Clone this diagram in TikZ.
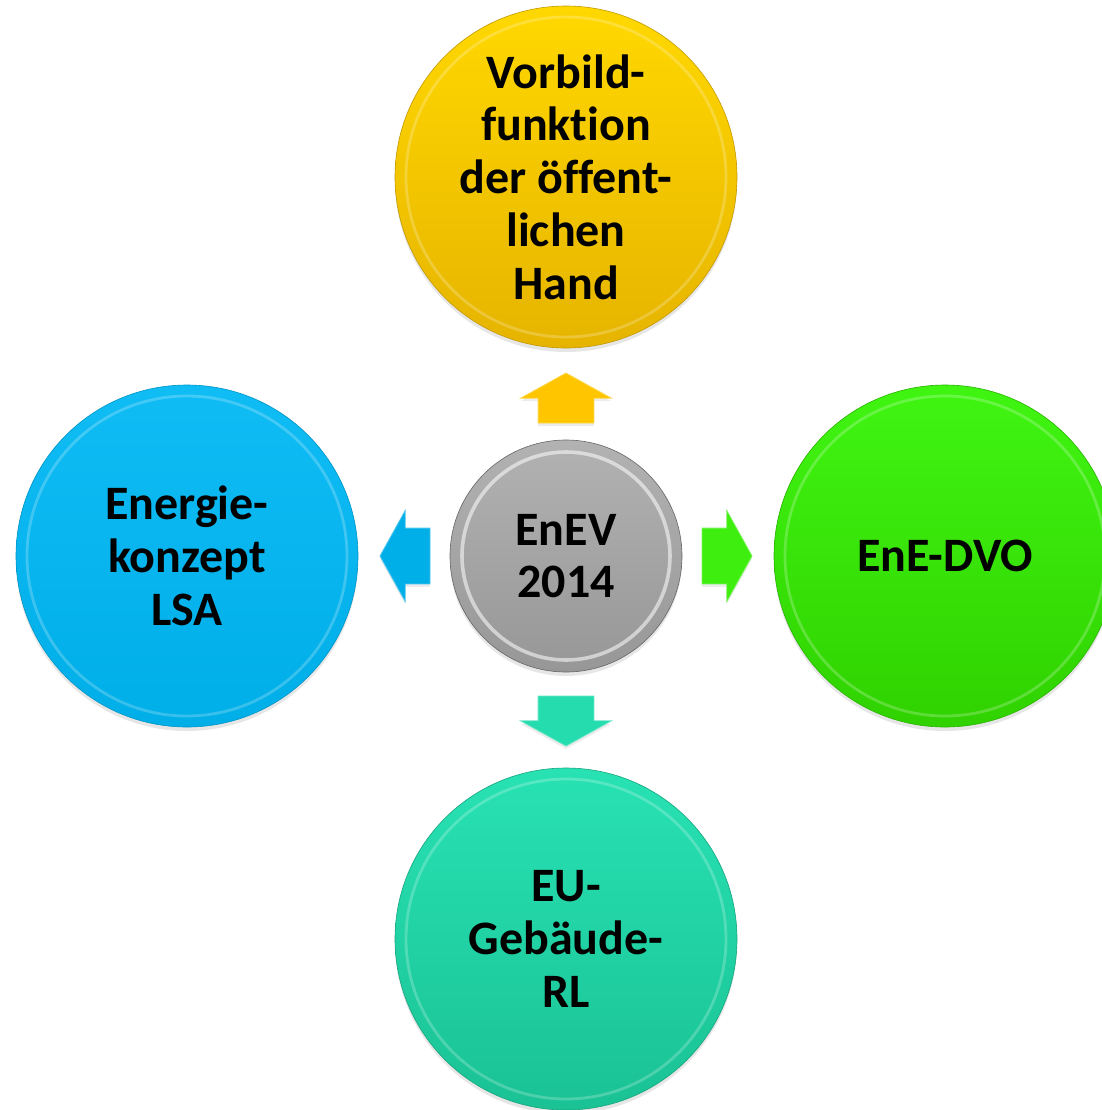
\documentclass[tikz,border=0pt]{standalone}
\usepackage{fontspec}
\setmainfont{Carlito}[Ligatures = NoCommon]
\usetikzlibrary{positioning,calc,shapes.arrows,shadows}
\definecolor{goldtop}{HTML}{FFD800}
\definecolor{goldbot}{HTML}{E6B400}
\definecolor{goldarrow}{HTML}{FFC600}
\definecolor{skytop}{HTML}{10BCF4}
\definecolor{skybot}{HTML}{00AEE8}
\definecolor{limetop}{HTML}{40F512}
\definecolor{limebot}{HTML}{30D200}
\definecolor{teatop}{HTML}{28E2B4}
\definecolor{teabot}{HTML}{1AC294}
\definecolor{slatetop}{HTML}{B2B2B2}
\definecolor{slatebot}{HTML}{979797}
\tikzset{
    font = \bfseries\fontsize{24}{26.4}\selectfont,
    node distance = 46pt,
    every node/.style = {
        inner sep = 0pt,
        outer sep = 0pt
    },
    disc/.style 2 args = {
        circle,
        align = center,
        minimum size = 171pt,
        top color = #1,
        bottom color = #2,
        draw = #2!85!black,
        line width = 0.3pt,
        drop shadow = {opacity = 0.2, shadow xshift = 0pt, shadow yshift = -2pt},
        path picture = {
            \draw [white, opacity = 0.22, line width = 1.4pt]
                (path picture bounding box.center) circle [radius = 80pt];
        }
    },
    hub/.style = {
        circle,
        align = center,
        minimum size = 116pt,
        top color = slatetop,
        bottom color = slatebot,
        draw = gray!80!black,
        line width = 0.3pt,
        drop shadow = {opacity = 0.2, shadow xshift = 0pt, shadow yshift = -2pt},
        path picture = {
            \draw [white, opacity = 0.55, line width = 1.8pt]
                (path picture bounding box.center) circle [radius = 52pt];
        }
    },
    pointer/.style = {
        single arrow,
        anchor = tail,
        inner xsep = 0pt,
        inner ysep = 13.75pt,
        minimum height = 25pt,
        single arrow head extend = 8.75pt,
        single arrow tip angle = 122,
        fill = #1,
        draw = #1!70!white,
        line width = 0.4pt,
        drop shadow = {opacity = 0.15, shadow xshift = 0pt, shadow yshift = -1.5pt}
    }
}

\begin{document}
\begin{tikzpicture}[x = 0.5pt, y = -0.5pt]
    \useasboundingbox (0,0) rectangle (1102,1110);
    \clip (0,0) rectangle (1102,1110);

    \node [hub] (enev) at (566,556) {EnEV\\2014};

    \node [disc = {goldtop}{goldbot}, above = of enev] (vorbild)
        {Vorbild-\\funktion\\der öffent-\\lichen\\Hand};
    \node [disc = {skytop}{skybot}, left = of enev] (konzept)
        {Energie-\\konzept\\LSA};
    \node [disc = {limetop}{limebot}, right = of enev] (dvo) {EnE-DVO};
    \node [disc = {teatop}{teabot}, below = 48pt of enev] (eurl)
        {EU-\\Gebäude-\\RL};

    % block arrows, tail next to the hub
    \node [pointer = goldarrow, rotate = 90] (toup)
        at ([yshift = 8.5pt]enev.north) {};
    \node [pointer = skybot, rotate = 180] (toleft)
        at ([xshift = -10pt]enev.west) {};
    \node [pointer = {limetop!80!limebot}] (toright)
        at ([xshift = 10pt]enev.east) {};
    \node [pointer = {teatop!80!teabot}, rotate = -90] (todown)
        at ([yshift = -12pt]enev.south) {};
\end{tikzpicture}
\end{document}
